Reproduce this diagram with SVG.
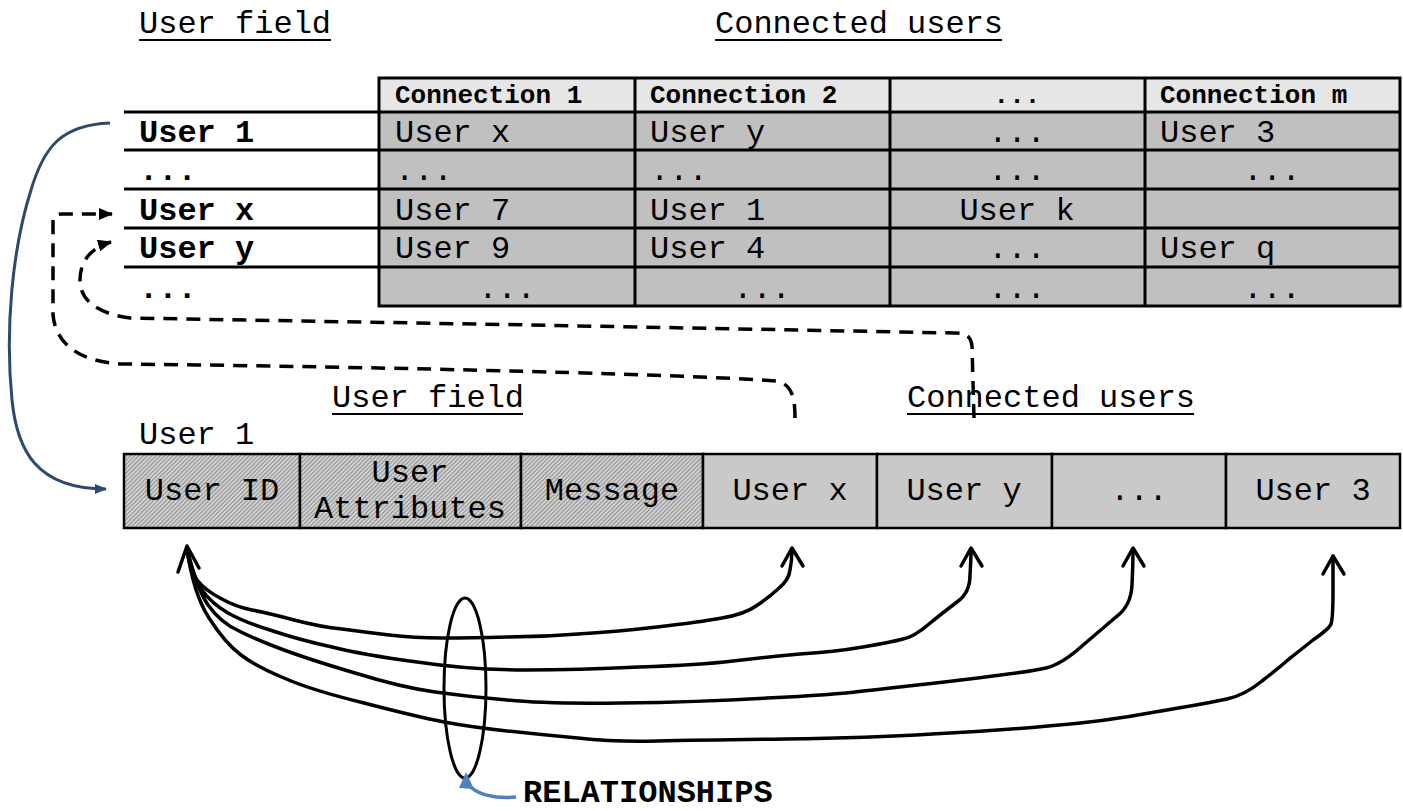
<svg xmlns="http://www.w3.org/2000/svg" width="1403" height="811" viewBox="0 0 1403 811">
  <style>
    text { font-family: "Liberation Mono", "Courier New", monospace; fill: #000; }
    .lbl { font-size: 32px; }
    .b { font-weight: bold; }
    .hd { font-size: 26px; font-weight: bold; }
    .mid { text-anchor: middle; }
    .ul { stroke: #000; stroke-width: 2; }
    .grid { stroke: #000; stroke-width: 3; fill: none; }
    .cell { fill: #c0c0c0; }
    .head { fill: #e6e6e6; }
    .rec { fill: #c9c9c9; stroke: #000; stroke-width: 2.5; }
    .hatch { fill: url(#hatch); stroke: #000; stroke-width: 2.5; }
    .dash { fill: none; stroke: #000; stroke-width: 3.5; stroke-dasharray: 14 9; }
    .rel { fill: none; stroke: #000; stroke-width: 3.5; stroke-linejoin: round; stroke-linecap: round; }
  </style>
  <defs>
    <pattern id="hatch" width="3" height="3" patternUnits="userSpaceOnUse" patternTransform="rotate(45)">
      <rect width="3" height="3" fill="#d0d0d0"/>
      <line x1="0" y1="0" x2="0" y2="3" stroke="#646464" stroke-width="1.2"/>
    </pattern>
    <marker id="blk" viewBox="0 0 14 12" refX="13" refY="6" markerWidth="14" markerHeight="12" markerUnits="userSpaceOnUse" orient="auto">
      <path d="M0 0 L14 6 L0 12 Z" fill="#000"/>
    </marker>
    <marker id="navy" viewBox="0 0 12 12" refX="11" refY="6" markerWidth="12" markerHeight="12" markerUnits="userSpaceOnUse" orient="auto">
      <path d="M0 1 L12 6 L0 11 Z" fill="#2d4a6b"/>
    </marker>
  </defs>
  <rect width="1403" height="811" fill="#fff"/>

  <!-- section titles -->
  <g id="titles">
    <text class="lbl" x="139" y="33">User field</text>
    <line class="ul" x1="139" y1="40" x2="331" y2="40"/>
    <text class="lbl" x="715" y="33">Connected users</text>
    <line class="ul" x1="715" y1="40" x2="1002" y2="40"/>
    <text class="lbl" x="332" y="407">User field</text>
    <line class="ul" x1="332" y1="414" x2="523" y2="414"/>
    <text class="lbl" x="907" y="407">Connected users</text>
    <line class="ul" x1="907" y1="414" x2="1194" y2="414"/>
  </g>

  <!-- user table -->
  <g id="user-table">
    <rect class="head" x="379" y="78" width="1021" height="34"/>
    <rect class="cell" x="379" y="112" width="1021" height="194"/>
    <g class="grid">
      <rect x="379" y="78" width="1021" height="228"/>
      <line x1="124" y1="112" x2="1400" y2="112"/>
      <line x1="124" y1="150" x2="1400" y2="150"/>
      <line x1="124" y1="189" x2="1400" y2="189"/>
      <line x1="124" y1="228" x2="1400" y2="228"/>
      <line x1="124" y1="267" x2="1400" y2="267"/>
      <line x1="635" y1="78" x2="635" y2="306"/>
      <line x1="890" y1="78" x2="890" y2="306"/>
      <line x1="1145" y1="78" x2="1145" y2="306"/>
    </g>
    <text class="hd" x="395" y="103">Connection 1</text>
    <text class="hd" x="650" y="103">Connection 2</text>
    <text class="hd mid" x="1017" y="103">...</text>
    <text class="hd" x="1160" y="103">Connection m</text>

    <text class="lbl b" x="139" y="142">User 1</text>
    <text class="lbl b" x="139" y="180">...</text>
    <text class="lbl b" x="139" y="220">User x</text>
    <text class="lbl b" x="139" y="258">User y</text>
    <text class="lbl b" x="139" y="298">...</text>

    <text class="lbl" x="395" y="142">User x</text>
    <text class="lbl" x="650" y="142">User y</text>
    <text class="lbl mid" x="1017" y="142">...</text>
    <text class="lbl" x="1160" y="142">User 3</text>

    <text class="lbl" x="395" y="180">...</text>
    <text class="lbl" x="650" y="180">...</text>
    <text class="lbl mid" x="1017" y="180">...</text>
    <text class="lbl mid" x="1272" y="180">...</text>

    <text class="lbl" x="395" y="220">User 7</text>
    <text class="lbl" x="650" y="220">User 1</text>
    <text class="lbl mid" x="1017" y="220">User k</text>

    <text class="lbl" x="395" y="258">User 9</text>
    <text class="lbl" x="650" y="258">User 4</text>
    <text class="lbl mid" x="1017" y="258">...</text>
    <text class="lbl" x="1160" y="258">User q</text>

    <text class="lbl mid" x="507" y="298">...</text>
    <text class="lbl mid" x="762" y="298">...</text>
    <text class="lbl mid" x="1017" y="298">...</text>
    <text class="lbl mid" x="1272" y="298">...</text>
  </g>

  <!-- single user record -->
  <g id="user-record">
    <text class="lbl" x="139" y="444">User 1</text>
    <rect class="hatch" x="124" y="454" width="176" height="74"/>
    <rect class="hatch" x="300" y="454" width="221" height="74"/>
    <rect class="hatch" x="521" y="454" width="182" height="74"/>
    <rect class="rec" x="703" y="454" width="174" height="74"/>
    <rect class="rec" x="877" y="454" width="175" height="74"/>
    <rect class="rec" x="1052" y="454" width="174" height="74"/>
    <rect class="rec" x="1226" y="454" width="174" height="74"/>
    <text class="lbl mid" x="212" y="500">User ID</text>
    <text class="lbl mid" x="410" y="482">User</text>
    <text class="lbl mid" x="410" y="518">Attributes</text>
    <text class="lbl mid" x="612" y="500">Message</text>
    <text class="lbl mid" x="790" y="500">User x</text>
    <text class="lbl mid" x="964" y="500">User y</text>
    <text class="lbl mid" x="1139" y="500">...</text>
    <text class="lbl mid" x="1313" y="500">User 3</text>
  </g>

  <!-- connectors -->
  <g id="connectors">
    <!-- table row back to its record -->
    <path d="M110 123 C62 125 44 146 31 190 C12 250 5 330 12 400 C17 450 36 489 106 489" fill="none" stroke="#2d4a6b" stroke-width="3" marker-end="url(#navy)"/>

    <!-- connected users pointing back into the table -->
    <path class="dash" d="M795 418 C795 400 793 384 776 381 C700 375 400 367 122 364 C82 362 56 346 53 315 L53 222 C53 216 56 214 62 214 L112 214" marker-end="url(#blk)"/>
    <path class="dash" d="M974 418 L972 346 C971 337 967 333 955 333 L530 325 L130 318 C100 314 80 302 80 280 C80 262 90 248 111 242" marker-end="url(#blk)"/>

    <!-- relationships from User ID to each connected user -->
    <path class="rel" d="M187 548 Q189 570 197 580 Q205 590 220 598 Q236 607 252 610 Q268 613 294 620 Q321 627 342 629 Q364 632 389 635 Q414 638 442 638 Q471 638 507 637 Q543 637 578 634 Q614 632 657 627 Q700 622 722 618 Q745 614 756 606 Q767 599 778 589 Q789 580 790 570 Q792 560 792 549"/>
    <path class="rel" d="M187 548 Q193 577 202 590 Q211 603 228 613 Q246 623 273 631 Q300 640 332 647 Q364 655 417 662 Q471 670 525 670 Q579 670 639 667 Q700 665 733 661 Q767 657 800 654 Q834 652 863 647 Q892 642 903 639 Q914 637 929 624 Q945 611 957 602 Q970 593 970 575 Q971 560 971 549"/>
    <path class="rel" d="M187 548 Q196 587 208 605 Q221 623 239 631 Q257 640 284 650 Q311 660 355 673 Q400 687 435 692 Q471 697 507 700 Q543 704 621 703 Q700 702 767 698 Q834 695 863 691 Q892 688 961 680 Q1030 672 1046 668 Q1062 664 1082 646 Q1102 629 1116 617 Q1131 606 1132 585 Q1133 565 1133 549"/>
    <path class="rel" d="M187 548 Q193 593 209 618 Q225 643 241 655 Q257 667 284 678 Q311 690 364 703 Q418 717 444 722 Q471 727 507 731 Q543 735 578 738 Q614 742 657 741 Q700 740 785 739 Q870 738 932 734 Q995 731 1048 726 Q1102 722 1155 712 Q1209 703 1227 699 Q1245 695 1262 681 Q1280 667 1289 659 Q1298 652 1313 640 Q1329 629 1331 624 Q1333 619 1333 590 L1333 556"/>
    <path class="rel" d="M178 572 L187 546 L199 568"/>
    <path class="rel" d="M782 566 L792 548 L803 566"/>
    <path class="rel" d="M961 566 L971 548 L982 566"/>
    <path class="rel" d="M1123 566 L1133 548 L1144 566"/>
    <path class="rel" d="M1323 574 L1333 556 L1344 574"/>
  </g>

  <!-- relationships group label -->
  <g id="relationships">
    <ellipse cx="465" cy="688" rx="21" ry="90" fill="none" stroke="#000" stroke-width="3"/>
    <path d="M516 797 C496 799 476 795 468 784" fill="none" stroke="#4f81bd" stroke-width="3.5"/>
    <path d="M466 772 L474 789 L459 788 Z" fill="#4f81bd"/>
    <text class="lbl b" x="523" y="802">RELATIONSHIPS</text>
  </g>
</svg>
